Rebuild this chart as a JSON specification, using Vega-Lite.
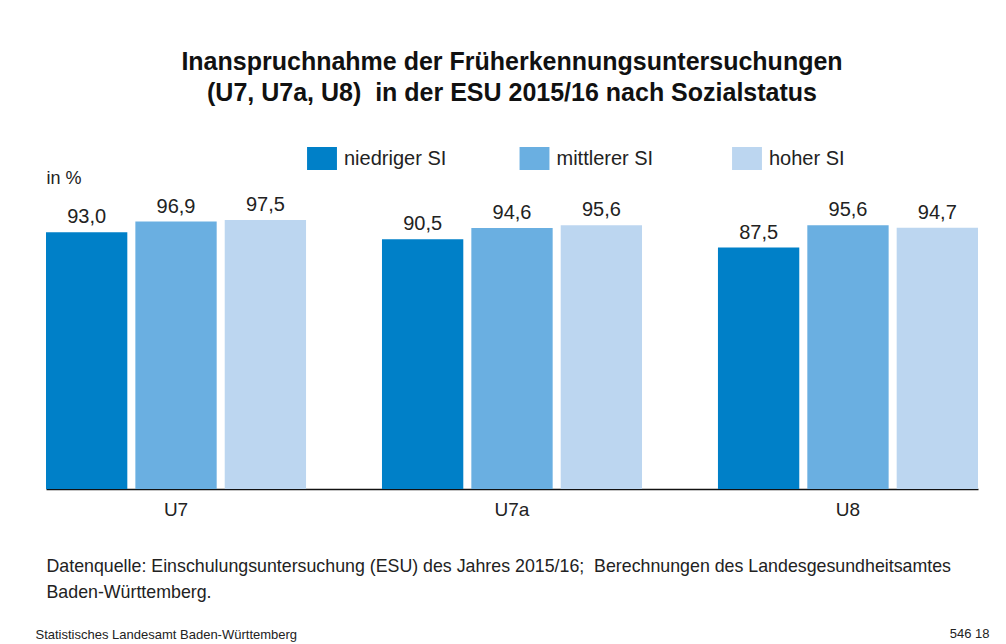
{
  "$schema": "https://vega.github.io/schema/vega-lite/v6.json",
  "autosize": {"type": "none"},
  "width": 932,
  "height": 276,
  "padding": {"left": 46, "top": 213, "right": 28, "bottom": 155},
  "background": "white",
  "title": {
    "text": ["Inanspruchnahme der Früherkennungsuntersuchungen", "(U7, U7a, U8)\u00a0 in der ESU 2015/16 nach Sozialstatus"],
    "font": "Liberation Sans",
    "fontSize": 25,
    "fontWeight": "bold",
    "color": "#111111",
    "anchor": "middle",
    "frame": "group",
    "lineHeight": 31,
    "offset": 41
  },
  "data": {
    "values": [
      {"U": "U7", "SI": "niedriger SI", "value": 93.0},
      {"U": "U7", "SI": "mittlerer SI", "value": 96.9},
      {"U": "U7", "SI": "hoher SI", "value": 97.5},
      {"U": "U7a", "SI": "niedriger SI", "value": 90.5},
      {"U": "U7a", "SI": "mittlerer SI", "value": 94.6},
      {"U": "U7a", "SI": "hoher SI", "value": 95.6},
      {"U": "U8", "SI": "niedriger SI", "value": 87.5},
      {"U": "U8", "SI": "mittlerer SI", "value": 95.6},
      {"U": "U8", "SI": "hoher SI", "value": 94.7}
    ]
  },
  "layer": [
    {
      "mark": {"type": "bar"},
      "encoding": {
        "x": {
          "field": "U", "type": "nominal", "sort": ["U7", "U7a", "U8"],
          "scale": {"paddingInner": 0.226, "paddingOuter": 0},
          "axis": {
            "orient": "bottom",
            "labelAngle": 0,
            "labelFont": "Liberation Sans",
            "labelFontSize": 19,
            "labelColor": "#222222",
            "labelPadding": 11,
            "ticks": false,
            "tickSize": 0,
            "domainColor": "#111111",
            "domainWidth": 1.5,
            "grid": false,
            "title": ["Datenquelle: Einschulungsuntersuchung (ESU) des Jahres 2015/16;\u00a0 Berechnungen des Landesgesundheitsamtes", "Baden-Württemberg."],
            "titleFont": "Liberation Sans",
            "titleFontSize": 17.8,
            "titleFontWeight": "normal",
            "titleColor": "#222222",
            "titleAlign": "left",
            "titleAnchor": "start",
            "titleBaseline": "alphabetic",
            "titleX": 0,
            "titleY": 82,
            "titleLineHeight": 26
          }
        },
        "xOffset": {
          "field": "SI", "type": "nominal", "sort": ["niedriger SI", "mittlerer SI", "hoher SI"],
          "scale": {"paddingInner": 0.09, "paddingOuter": 0}
        },
        "y": {
          "field": "value", "type": "quantitative",
          "scale": {"domain": [0, 100], "nice": false, "zero": true},
          "axis": {
            "orient": "left",
            "labels": false,
            "ticks": false,
            "domain": false,
            "grid": false,
            "title": "in %",
            "titleFont": "Liberation Sans",
            "titleFontSize": 18,
            "titleFontWeight": "normal",
            "titleColor": "#222222",
            "titleAngle": 0,
            "titleAlign": "left",
            "titleBaseline": "alphabetic",
            "titleX": 0,
            "titleY": -30
          }
        },
        "color": {
          "field": "SI", "type": "nominal",
          "sort": ["niedriger SI", "mittlerer SI", "hoher SI"],
          "scale": {"domain": ["niedriger SI", "mittlerer SI", "hoher SI"], "range": ["#0080c8", "#6aafe1", "#bcd6f0"]},
          "legend": {
            "title": null,
            "orient": "none",
            "legendX": 264.5,
            "legendY": -66,
            "direction": "horizontal",
            "columns": 3,
            "gridAlign": "all",
            "columnPadding": 72.5,
            "padding": 0,
            "symbolType": "M-1.3,-1H1.3V1H-1.3Z",
            "symbolSize": 529,
            "symbolStrokeWidth": 0,
            "symbolOpacity": 1,
            "labelFont": "Liberation Sans",
            "labelFontSize": 20,
            "labelColor": "#222222",
            "labelOffset": 10.5,
            "labelLimit": 300
          }
        }
      }
    },
    {
      "mark": {"type": "text", "baseline": "alphabetic", "dy": -9, "font": "Liberation Sans", "fontSize": 20, "color": "#222222"},
      "encoding": {
        "x": {
          "field": "U", "type": "nominal", "sort": ["U7", "U7a", "U8"],
          "scale": {"paddingInner": 0.226, "paddingOuter": 0},
          "axis": {
            "orient": "top",
            "labels": false,
            "ticks": false,
            "domain": false,
            "grid": false,
            "title": "Statistisches Landesamt Baden-Württemberg",
            "titleFont": "Liberation Sans",
            "titleFontSize": 13,
            "titleFontWeight": "normal",
            "titleColor": "#222222",
            "titleAlign": "left",
            "titleAnchor": "start",
            "titleBaseline": "alphabetic",
            "titleX": -11,
            "titleY": 425
          }
        },
        "xOffset": {
          "field": "SI", "type": "nominal", "sort": ["niedriger SI", "mittlerer SI", "hoher SI"],
          "scale": {"paddingInner": 0.09, "paddingOuter": 0}
        },
        "y": {
          "field": "value", "type": "quantitative",
          "scale": {"domain": [0, 100], "nice": false, "zero": true},
          "axis": {
            "orient": "right",
            "labels": false,
            "ticks": false,
            "domain": false,
            "grid": false,
            "title": "546 18",
            "titleFont": "Liberation Sans",
            "titleFontSize": 13,
            "titleFontWeight": "normal",
            "titleColor": "#222222",
            "titleAngle": 0,
            "titleAlign": "right",
            "titleBaseline": "alphabetic",
            "titleX": 11,
            "titleY": 424
          }
        },
        "text": {"field": "value", "type": "quantitative", "format": ".1f"}
      }
    }
  ],
  "resolve": {
    "scale": {"x": "independent", "y": "independent"},
    "axis": {"x": "independent", "y": "independent"}
  },
  "config": {
    "view": {"stroke": null},
    "locale": {"number": {"decimal": ",", "thousands": ".", "grouping": [3], "currency": ["", " €"]}}
  }
}
